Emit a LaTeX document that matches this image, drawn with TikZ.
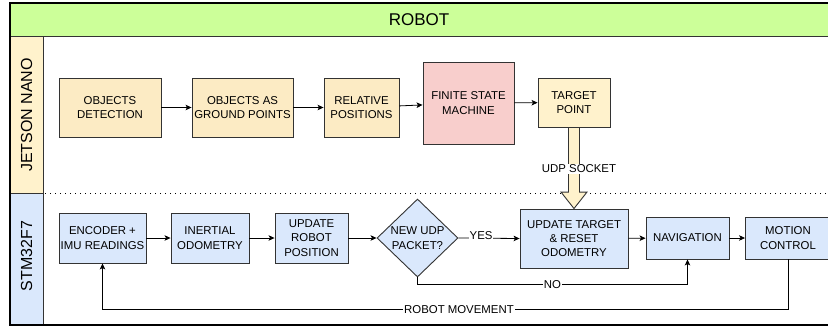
\documentclass[tikz,border=0pt]{standalone}
\usepackage{fontspec}
\setmainfont{Liberation Sans}
\usetikzlibrary{shapes.geometric,arrows.meta,calc}
\definecolor{hdrgreen}{HTML}{CCFF99}
\definecolor{lanebeige}{HTML}{FFF2CC}
\definecolor{nodebeige}{HTML}{FCEBC4}
\definecolor{tgtbeige}{HTML}{FFF2CC}
\definecolor{laneblue}{HTML}{DAE8FC}
\definecolor{nodered}{HTML}{F8CECC}
\definecolor{strokec}{HTML}{333333}
\tikzset{
  box/.style={draw=strokec, line width=0.9pt, align=center, inner sep=1pt,
    font=\fontsize{11.4}{14.3}\selectfont},
  jbox/.style={box, fill=nodebeige},
  sbox/.style={box, fill=laneblue},
  flow/.style={draw=black, line width=0.8pt, -{Stealth[length=6pt,width=5.5pt,inset=1.5pt]}},
  elabel/.style={fill=white, inner sep=1pt, font=\fontsize{11.4}{13}\selectfont},
}
\begin{document}
\begin{tikzpicture}[x=1pt,y=-1pt]
\useasboundingbox (0,0) rectangle (828,327);
% header and lanes
\fill[white] (10,3) rectangle (830,325);
\fill[hdrgreen] (10,3) rectangle (830,36);
\fill[lanebeige] (10,36) rectangle (43,193);
\fill[laneblue] (10,193) rectangle (43,325);
\draw[line width=0.9pt, strokec] (10,36) -- (830,36);
\draw[line width=0.9pt, strokec] (43,36) -- (43,325);
\draw[line width=0.9pt, strokec] (10,193) -- (43,193);
\draw[line width=1pt, dash pattern=on 1.2pt off 3.8pt, black] (45,193) -- (830,193);
\draw[line width=1.6pt, black] (10,3) rectangle (830,325);
\node[font=\fontsize{17}{20}\selectfont] (hdr) at (419,20) {ROBOT};
\node[rotate=90, font=\fontsize{16}{19}\selectfont] (lj) at (26.5,115) {JETSON NANO};
\node[rotate=90, font=\fontsize{16}{19}\selectfont] (ls) at (26.5,256) {STM32F7};
% Jetson nodes
\node[jbox, minimum width=102pt, minimum height=59pt] (det) at (110,107.5) {OBJECTS\\DETECTION};
\node[jbox, minimum width=101pt, minimum height=59pt] (gnd) at (242.5,107.5) {OBJECTS AS\\GROUND POINTS};
\node[jbox, minimum width=75pt, minimum height=59pt] (rel) at (361.5,107.5) {RELATIVE\\POSITIONS};
\node[box, fill=nodered, minimum width=91pt, minimum height=82pt] (fsm) at (468.5,103) {FINITE STATE\\MACHINE};
\node[box, fill=tgtbeige, minimum width=72pt, minimum height=49pt] (tgt) at (574,102.5) {TARGET\\POINT};
% STM nodes
\node[sbox, minimum width=87pt, minimum height=50pt] (enc) at (102.5,238) {ENCODER +\\IMU READINGS};
\node[sbox, minimum width=78pt, minimum height=50pt] (ine) at (210,238) {INERTIAL\\ODOMETRY};
\node[sbox, minimum width=73pt, minimum height=50pt] (upd) at (311.5,238) {UPDATE\\ROBOT\\POSITION};
\node[sbox, shape=diamond, inner sep=0pt, minimum width=81pt, minimum height=78pt] (dia) at (417.5,238) {NEW UDP\\PACKET?};
\node[sbox, minimum width=108pt, minimum height=59pt] (utg) at (574,238.5) {UPDATE TARGET\\\& RESET\\ODOMETRY};
\node[sbox, minimum width=83pt, minimum height=42pt] (nav) at (687.5,238) {NAVIGATION};
\node[sbox, minimum width=85pt, minimum height=42pt] (mot) at (788,238) {MOTION\\CONTROL};
% Jetson flow
\draw[flow] (det) -- (gnd);
\draw[flow] (gnd) -- (rel);
\draw[flow] (rel) -- (fsm);
\draw[flow] (fsm) -- (tgt);
% UDP socket arrow
\draw[fill=tgtbeige, draw=strokec, line width=0.9pt]
  ($(tgt.south)+(-5.5,0)$) -- ($(utg.north)+(-5.5,-16.5)$) -- ($(utg.north)+(-13,-16.5)$)
  -- (utg.north) -- ($(utg.north)+(13,-16.5)$) -- ($(utg.north)+(5.5,-16.5)$)
  -- ($(tgt.south)+(5.5,0)$) -- cycle;
\node[elabel] (udp) at (579,169) {UDP SOCKET};
% STM flow
\draw[flow] (enc) -- (ine);
\draw[flow] (ine) -- (upd);
\draw[flow] (upd) -- (dia);
\draw[flow] (dia.east) -- (utg.west) node[elabel, pos=0.37, yshift=3pt] {YES};
\draw[flow] (utg) -- (nav);
\draw[flow] (nav) -- (mot);
\coordinate (no1) at ($(dia.south)+(0,7)$);
\coordinate (no2) at ($(nav.south)+(0,25)$);
\draw[flow] (dia.south) -- (no1) -- node[elabel, pos=0.5] {NO} (no2) -- (nav.south);
\coordinate (rm1) at ($(mot.south)+(0,50)$);
\coordinate (rm2) at ($(enc.south)+(0,46)$);
\draw[flow] (mot.south) -- (rm1) -- node[elabel, pos=0.48] {ROBOT MOVEMENT} (rm2) -- (enc.south);
\end{tikzpicture}
\end{document}
